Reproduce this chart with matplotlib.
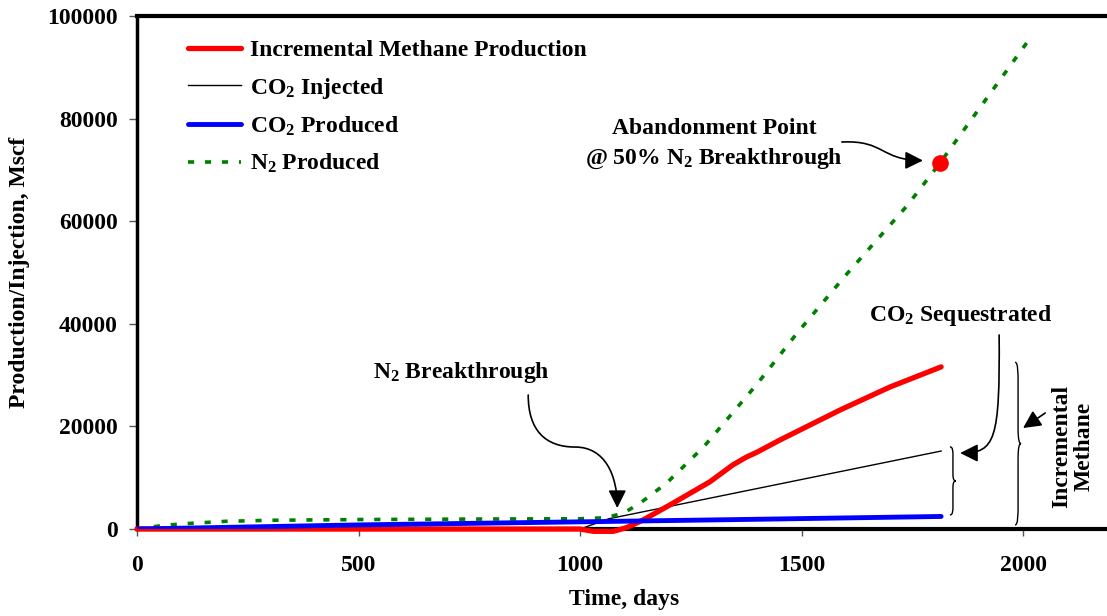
import numpy as np
import matplotlib
matplotlib.use("Agg")
import matplotlib.pyplot as plt
from matplotlib.path import Path
from matplotlib.patches import FancyArrowPatch, PathPatch

plt.rcParams['font.family'] = ['Liberation Serif', 'DejaVu Serif']
plt.rcParams['font.weight'] = 'bold'
plt.rcParams['mathtext.fontset'] = 'custom'
plt.rcParams['mathtext.rm'] = 'Liberation Serif:bold'
plt.rcParams['mathtext.it'] = 'Liberation Serif:bold:italic'
plt.rcParams['mathtext.bf'] = 'Liberation Serif:bold'

FS = 17

# cumulative volumes, Mscf, against time in days
methane_days = [0, 500, 1000, 1030, 1075, 1106, 1142, 1203, 1293, 1345, 1375, 1400, 1450,
                1587, 1700, 1815]
methane_vol = [0, 0, 0, -450, -450, 300, 1750, 4700, 9200, 12500, 14000, 15000, 17300,
               23200, 27700, 31600]

co2_inj_days = [0, 1000, 1065, 1406, 1815]
co2_inj_vol = [0, 0, 2000, 8000, 15200]

co2_prod_days = [0, 500, 1000, 1400, 1815]
co2_prod_vol = [0, 800, 1400, 1900, 2450]

n2_days = [0, 50, 100, 200, 300, 500, 800, 1000, 1060, 1100, 1135, 1196, 1280,
           1400, 1490, 1600, 1738, 1813, 2011]
n2_vol = [0, 600, 1000, 1500, 1700, 1850, 1950, 2000, 2200, 3200, 5000, 9000, 16100,
          28300, 38200, 49500, 63000, 71400, 95100]

abandon_day = [1813]
abandon_vol = [71400]


def brace(ax, x, y0, y1, w, lw=1.0):
    # right-pointing curly brace between y0 and y1
    h = y1 - y0
    ym = (y0 + y1) / 2
    xm = x + w * 0.5
    verts = [(x, y0),
             (xm, y0), (xm, y0 + 0.06 * h), (xm, y0 + 0.14 * h),
             (xm, ym - 0.1 * h),
             (xm, ym - 0.02 * h), (x + 0.7 * w, ym), (x + w, ym),
             (x + 0.7 * w, ym), (xm, ym + 0.02 * h), (xm, ym + 0.1 * h),
             (xm, y1 - 0.14 * h),
             (xm, y1 - 0.06 * h), (xm, y1), (x, y1)]
    codes = [Path.MOVETO,
             Path.CURVE4, Path.CURVE4, Path.CURVE4,
             Path.LINETO,
             Path.CURVE4, Path.CURVE4, Path.CURVE4,
             Path.CURVE4, Path.CURVE4, Path.CURVE4,
             Path.LINETO,
             Path.CURVE4, Path.CURVE4, Path.CURVE4]
    ax.add_patch(PathPatch(Path(verts, codes), fill=False, lw=lw, color='black', clip_on=False))


def curved_arrow(ax, verts):
    codes = [Path.MOVETO] + [Path.CURVE4] * (len(verts) - 1)
    arr = FancyArrowPatch(path=Path(verts, codes), arrowstyle='-|>,head_length=0.6,head_width=0.3',
                          mutation_scale=18, lw=1.2, color='black', clip_on=False)
    ax.add_patch(arr)


fig = plt.figure(figsize=(11.07, 6.16), dpi=100)
ax = fig.add_axes([0.1238, 0.1412, 0.8804, 0.8328])

ax.plot(co2_inj_days, co2_inj_vol, color='black', lw=1.0, label='CO$_2$ Injected')
ax.plot(co2_prod_days, co2_prod_vol, color='#0000ff', lw=3.5, label='CO$_2$ Produced',
        solid_capstyle='round', zorder=4)
ax.plot(n2_days, n2_vol, color='#008000', lw=2.6, dashes=(1.7, 3.0), label='N$_2$ Produced')
ax.plot(methane_days, methane_vol, color='#ff0000', lw=3.8, label='Incremental Methane Production',
        solid_capstyle='round', solid_joinstyle='round', clip_on=False, zorder=3)
ax.plot(abandon_day, abandon_vol, 'o', color='#ff0000', ms=11, zorder=5)

ax.set_xlim(0, 2200)
ax.set_ylim(0, 100000)
ax.set_xticks([0, 500, 1000, 1500, 2000])
ax.set_yticks(np.arange(0, 100001, 20000))
ax.tick_params(axis='x', length=5, width=1, color='#555555', pad=14, labelsize=FS)
ax.tick_params(axis='y', length=6, width=1, color='#555555', pad=8, labelsize=FS)
ax.spines['right'].set_visible(False)
ax.spines['left'].set_linewidth(2.5)
ax.spines['bottom'].set_linewidth(3)
ax.spines['top'].set_linewidth(3)

ax.set_xlabel('Time, days', fontsize=FS, fontweight='bold', labelpad=9)
ax.set_ylabel('Production/Injection, Mscf', fontsize=FS, fontweight='bold', labelpad=12)

handles, labels = ax.get_legend_handles_labels()
order = [3, 0, 1, 2]
ax.legend([handles[i] for i in order], [labels[i] for i in order], loc='upper left',
          bbox_to_anchor=(0.03, 0.995), frameon=False, fontsize=FS, handlelength=2.25,
          handletextpad=0.4, labelspacing=0.6)

# annotations
ax.text(1302, 78000, 'Abandonment Point', ha='center', va='center', fontsize=FS)
ax.text(1302, 72100, '@ 50% N$_2$ Breakthrough', ha='center', va='center', fontsize=FS)
curved_arrow(ax, [(1591, 75440), (1688, 75830), (1677, 71930), (1774, 71830)])

ax.text(731, 30600, 'N$_2$ Breakthrough', ha='center', va='center', fontsize=FS)
curved_arrow(ax, [(883, 26120), (883, 19300), (921, 15980), (989, 15980),
                  (1056, 15980), (1084, 10530), (1084, 4090)])

ax.text(1860, 41700, 'CO$_2$ Sequestrated', ha='center', va='center', fontsize=FS)
curved_arrow(ax, [(1946, 37820), (1948, 17350), (1937, 14815), (1858, 14815)])

brace(ax, 1835, co2_prod_vol[-1] + 300, co2_inj_vol[-1] + 800, 13.5)
brace(ax, 1982, 800, methane_vol[-1] + 900, 13.5)

ax.annotate('', xy=(2000, 19690), xytext=(2050, 22610),
            arrowprops=dict(arrowstyle='-|>,head_length=0.6,head_width=0.3', mutation_scale=18,
                            lw=1.2, color='black', shrinkA=0, shrinkB=0))
ax.text(2113, 16180, 'Incremental\nMethane', ha='center', va='center', rotation=90,
        fontsize=FS, linespacing=1.1)

fig.savefig('out.png', dpi=100)
